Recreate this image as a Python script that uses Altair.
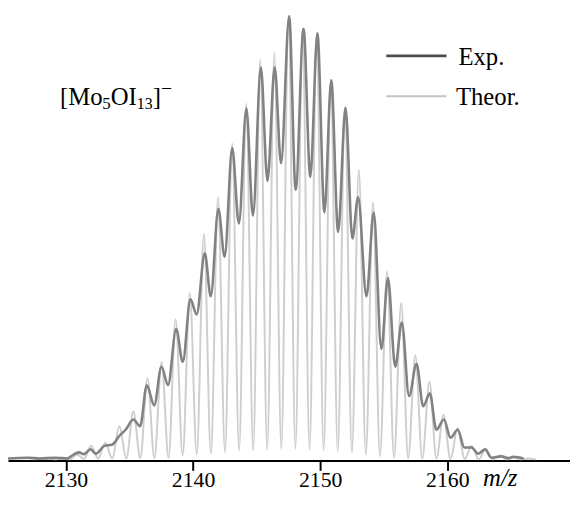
import altair as alt
import pandas as pd

# ---- data (m/z, relative intensity %) ----
theo_peak_mz = [2128.65, 2129.76, 2130.87, 2131.98, 2133.09, 2134.20, 2135.30, 2136.41,
                2137.52, 2138.63, 2139.74, 2140.85, 2141.96, 2143.07, 2144.18, 2145.28,
                2146.39, 2147.50, 2148.61, 2149.72, 2150.83, 2151.94, 2153.04, 2154.15,
                2155.26, 2156.37, 2157.48, 2158.59, 2159.70, 2160.81, 2161.92, 2163.03,
                2164.13, 2165.24, 2166.35]
theo_peak_int = [0.2, 0.4, 1.1, 3.1, 3.8, 7.5, 10.8, 18.3, 22.0, 31.6, 37.6, 50.9, 59.1,
                 71.3, 80.2, 90.3, 91.8, 100.0, 97.1, 96.1, 85.5, 79.3, 65.4, 58.0, 42.4,
                 35.3, 23.5, 17.5, 10.1, 7.1, 3.1, 2.3, 0.9, 0.4, 0.2]
theo_valley_mz = [2127.50, 2129.20, 2130.31, 2131.42, 2132.53, 2133.64, 2134.75, 2135.85,
                  2136.96, 2138.07, 2139.18, 2140.29, 2141.40, 2142.51, 2143.62, 2144.73,
                  2145.83, 2146.94, 2148.05, 2149.16, 2150.27, 2151.38, 2152.49, 2153.59,
                  2154.70, 2155.81, 2156.92, 2158.03, 2159.14, 2160.25, 2161.36, 2162.47,
                  2163.58, 2164.68, 2165.79, 2167.00]
theo_valley_int = [0.0, 0.0, 0.0, 0.1, 0.2, 0.2, 0.2, 0.3, 0.3, 0.4, 0.9, 1.1, 1.3, 1.6,
                   2.0, 2.0, 2.2, 2.4, 2.4, 2.2, 2.0, 1.8, 1.6, 1.1, 0.7, 0.4, 0.3, 0.2,
                   0.2, 0.1, 0.1, 0.0, 0.0, 0.0, 0.0, 0.0]

exp_mz = [2125.44, 2126.99, 2127.93, 2129.09, 2130.10, 2130.39, 2131.03, 2131.42, 2131.94,
          2132.33, 2133.05, 2133.60, 2134.20, 2134.69, 2135.31, 2135.83, 2136.36, 2136.94,
          2137.51, 2138.03, 2138.67, 2139.19, 2139.79, 2140.28, 2140.92, 2141.39, 2141.99,
          2142.48, 2143.08, 2143.60, 2144.19, 2144.71, 2145.33, 2145.85, 2146.42, 2146.92,
          2147.56, 2148.07, 2148.69, 2149.22, 2149.78, 2150.33, 2150.87, 2151.41, 2151.99,
          2152.53, 2152.98, 2153.64, 2154.21, 2154.81, 2155.33, 2155.90, 2156.42, 2156.99,
          2157.58, 2158.10, 2158.62, 2159.14, 2159.73, 2160.25, 2160.82, 2161.34, 2161.90,
          2162.42, 2162.97, 2163.46, 2164.29, 2164.76, 2165.22, 2166.00]
exp_int = [0.2, 0.4, 0.2, 0.4, 0.2, 0.7, 1.6, 1.2, 2.3, 1.3, 3.1, 3.3, 5.3, 6.7, 9.0, 7.5,
           16.7, 12.2, 20.9, 16.8, 29.4, 22.0, 36.1, 32.7, 46.5, 36.8, 56.5, 45.7, 70.2,
           53.2, 79.1, 55.0, 88.4, 62.8, 88.4, 66.8, 99.9, 60.8, 97.1, 63.7, 96.1, 55.7,
           85.5, 51.3, 79.3, 49.8, 59.1, 36.8, 55.7, 24.9, 40.9, 20.9, 30.9, 14.3, 21.6,
           12.0, 14.9, 6.7, 9.0, 4.9, 6.7, 2.7, 2.7, 1.3, 2.3, 0.4, 0.7, 0.3, 0.6, 0.2]

x_ticks = [2130, 2140, 2150, 2160]
legend_labels = ["Exp.", "Theor."]
formula_parts = ["[Mo", "5", "OI", "13", "]", "\u2212"]

SERIF = "Liberation Serif"
EXP_COLOR = "#828282"
THEO_COLOR = "#cecece"

theo = pd.DataFrame({
    "mz": theo_peak_mz + theo_valley_mz,
    "intensity": theo_peak_int + theo_valley_int,
})
exp = pd.DataFrame({"mz": exp_mz, "intensity": exp_int})

xscale = alt.Scale(domain=[2125.44, 2169.65], nice=False, zero=False)
yscale = alt.Scale(domain=[-0.22, 101.1], nice=False, zero=False)

xaxis = alt.Axis(values=x_ticks, format="d", grid=False, domainColor="black",
                 domainWidth=2, tickColor="black", tickWidth=2, tickSize=10,
                 labelFont=SERIF, labelFontSize=22, labelColor="black",
                 labelBaseline="alphabetic", labelPadding=16, title=None)

theo_line = alt.Chart(theo).mark_line(
    color=THEO_COLOR, strokeWidth=2, interpolate="monotone", clip=True
).encode(
    x=alt.X("mz:Q", scale=xscale, axis=xaxis),
    y=alt.Y("intensity:Q", scale=yscale, axis=None),
)

exp_line = alt.Chart(exp).mark_line(
    color=EXP_COLOR, strokeWidth=2.6, interpolate="monotone", clip=True
).encode(
    x=alt.X("mz:Q", scale=xscale),
    y=alt.Y("intensity:Q", scale=yscale),
)

one = pd.DataFrame({"a": [0]})

leg_exp_line = alt.Chart(one).mark_rule(color="#4d4d4d", strokeWidth=2.8).encode(
    x=alt.value(383), x2=alt.value(444), y=alt.value(45.3))
leg_theo_line = alt.Chart(one).mark_rule(color="#c4c4c4", strokeWidth=2.2).encode(
    x=alt.value(383), x2=alt.value(444), y=alt.value(86.3))
leg_exp_text = alt.Chart(one).mark_text(
    text=legend_labels[0], font=SERIF, fontSize=25, color="black",
    align="left", baseline="alphabetic").encode(x=alt.value(456), y=alt.value(54.7))
leg_theo_text = alt.Chart(one).mark_text(
    text=legend_labels[1], font=SERIF, fontSize=25, color="black",
    align="left", baseline="alphabetic").encode(x=alt.value(453.5), y=alt.value(94.7))

# chemical formula [Mo5OI13]- built from pieces (subscripts / superscript)
f_specs = [  # (text, x, y, size)
    (formula_parts[0], 52.7, 95.3, 25),
    (formula_parts[1], 95.5, 99.5, 17),
    (formula_parts[2], 104.0, 95.3, 25),
    (formula_parts[3], 130.4, 99.5, 16),
    (formula_parts[4], 146.5, 95.3, 25),
    (formula_parts[5], 155.0, 85.0, 20),
]
formula_layers = [
    alt.Chart(one).mark_text(text=t, font=SERIF, fontSize=s, color="black",
                             align="left", baseline="alphabetic").encode(
        x=alt.value(px), y=alt.value(py))
    for (t, px, py, s) in f_specs
]

mz_label = alt.Chart(one).mark_text(
    text="m/z", font=SERIF, fontSize=25, fontStyle="italic", color="black",
    align="left", baseline="alphabetic").encode(x=alt.value(481), y=alt.value(480.5))

chart = alt.layer(
    theo_line, exp_line, leg_exp_line, leg_theo_line, leg_exp_text, leg_theo_text,
    *formula_layers, mz_label
).properties(
    width=569, height=455,
    autosize=alt.AutoSizeParams(type="none"),
    padding={"left": 0, "top": 0, "right": 0, "bottom": 40},
).configure_view(stroke=None)

chart.save("out.html", embed_options={"renderer": "svg", "actions": False})
